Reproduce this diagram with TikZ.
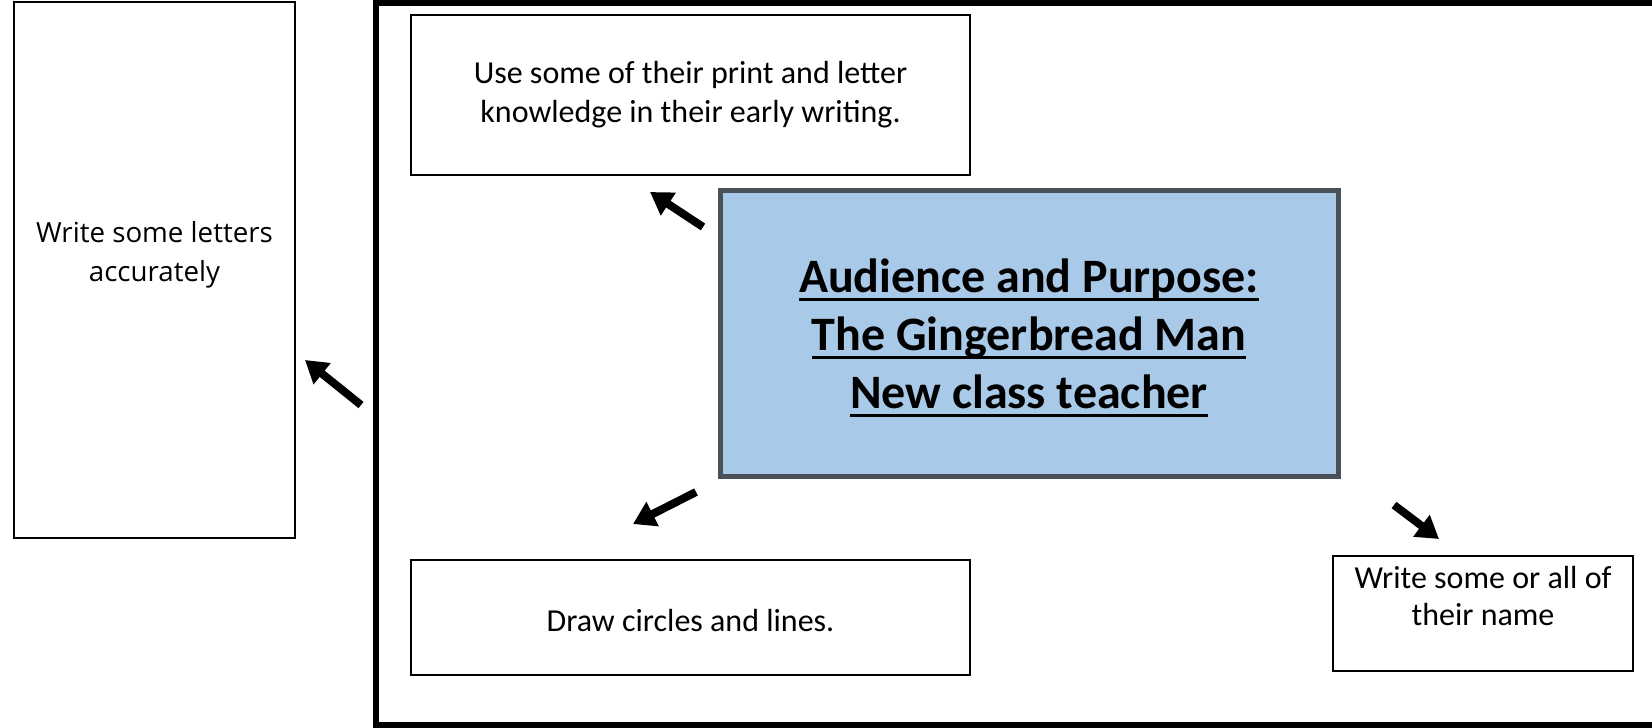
\documentclass[tikz,border=0pt]{standalone}
\usepackage{fontspec}
\setmainfont{Carlito}
\newfontfamily\leftfont{Open Sans}
\newsavebox\ulbox
\newcommand\undertext[1]{\sbox\ulbox{#1}\rlap{\rule[-9pt]{\wd\ulbox}{3pt}}\usebox\ulbox}
\usetikzlibrary{arrows.meta}
\tikzset{
  plainbox/.style={draw=black,line width=2pt,fill=white,inner sep=0pt,align=center},
  aimbox/.style={draw={rgb,255:red,74;green,80;blue,88},line width=5pt,
    fill={rgb,255:red,169;green,201;blue,232},inner sep=0pt},
  bodytext/.style={align=center,font=\fontsize{32}{39}\selectfont},
  pointer/.style={line width=8pt,-{Triangle[length=22pt,width=26pt]}}
}
\begin{document}
\begin{tikzpicture}[x=1pt,y=-1pt]
  \useasboundingbox (0,0) rectangle (1652,728);
  % frame round the writing goals
  \draw[line width=6pt] (376,3) rectangle (1720,725);
  % boxes
  \node[plainbox,minimum width=281pt,minimum height=536pt] (letters) at (154.5,270) {};
  \node[align=center,font=\leftfont\fontsize{27.7}{39}\selectfont] (letterstext) at (154.5,255)
    {Write some letters\\accurately};
  \node[plainbox,minimum width=559pt,minimum height=160pt,bodytext] (print) at (690.5,95)
    {Use some of their print and letter\\knowledge in their early writing.};
  \node[aimbox,minimum width=618pt,minimum height=286pt] (aim) at (1029,333) {};
  \node[align=center,font=\bfseries\fontsize{48}{58}\selectfont] (aimtext) at (1029,338)
    {\undertext{Audience and Purpose:}\\\undertext{The Gingerbread Man}\\\undertext{New class teacher}};
  \node[plainbox,minimum width=559pt,minimum height=115pt] (circles) at (690.5,617.5) {};
  \node[bodytext] (circlestext) at (690.5,620.5) {Draw circles and lines.};
  \node[plainbox,minimum width=300pt,minimum height=115pt] (name) at (1483,613.5) {};
  \node[bodytext,font=\fontsize{32}{37}\selectfont] (nametext) at (1483,596)
    {Write some or all of\\their name};
  % arrows
  \coordinate (p1s) at (703,227); \coordinate (p1e) at (650,192);
  \coordinate (p2s) at (361,405); \coordinate (p2e) at (305,360);
  \coordinate (p3s) at (696,492); \coordinate (p3e) at (633,524);
  \coordinate (p4s) at (1394,505); \coordinate (p4e) at (1439,539);
  \draw[pointer] (p1s) -- (p1e);
  \draw[pointer] (p2s) -- (p2e);
  \draw[pointer] (p3s) -- (p3e);
  \draw[pointer] (p4s) -- (p4e);
\end{tikzpicture}
\end{document}
